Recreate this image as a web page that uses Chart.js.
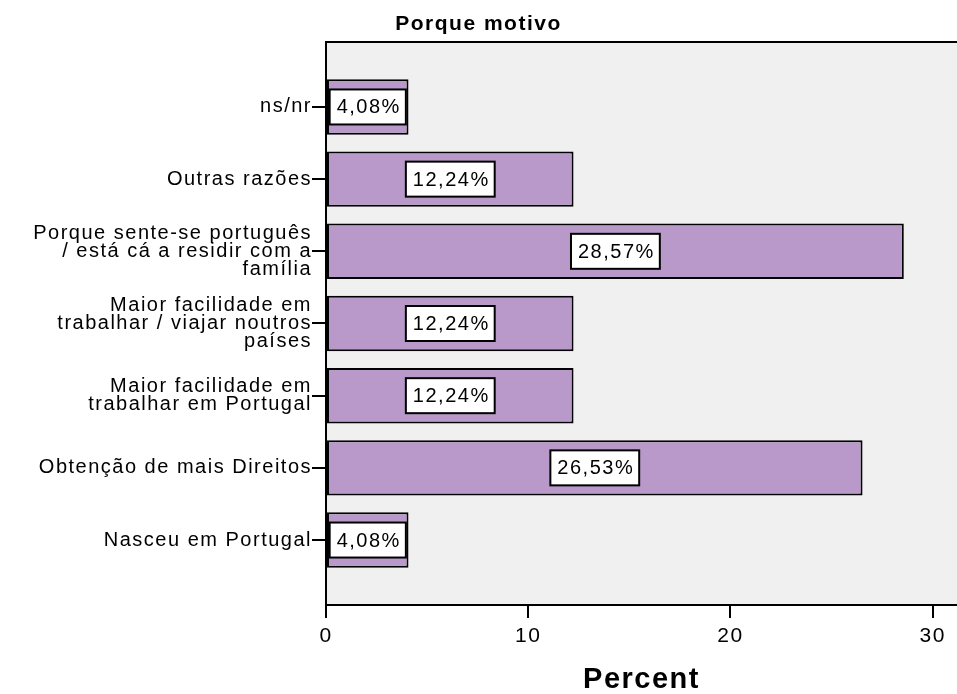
<!DOCTYPE html>
<html>
<head>
<meta charset="utf-8">
<script src="https://cdn.jsdelivr.net/npm/chart.js@4/dist/chart.umd.min.js"></script>
<style>
    body { margin: 0; background: #fff; }
    #wrap { width: 957px; height: 694px; position: relative; }
</style>
</head>
<body>
<div id="wrap"><canvas id="motivoChart"></canvas></div>
<script>
// Categorias (de cima para baixo) e percentagens
const categorias = [
    'ns/nr',
    'Outras razões',
    ['Porque sente-se português', '/ está cá a residir com a', 'família'],
    ['Maior facilidade em', 'trabalhar / viajar noutros', 'países'],
    ['Maior facilidade em', 'trabalhar em Portugal'],
    'Obtenção de mais Direitos',
    'Nasceu em Portugal'
];
const percentagens = [4.08, 12.24, 28.57, 12.24, 12.24, 26.53, 4.08];
const xTicks = [0, 10, 20, 30];

const FONT = "'Liberation Sans', Arial, sans-serif";
Chart.defaults.font.family = FONT;
Chart.defaults.color = '#000';

// fundo cinzento da área do gráfico + linha de topo
const fundoPlugin = {
    id: 'fundo',
    beforeDraw(chart) {
        const { ctx, chartArea: a } = chart;
        ctx.save();
        ctx.fillStyle = '#F0F0F0';
        ctx.fillRect(a.left, a.top, a.right - a.left, a.bottom - a.top);
        ctx.strokeStyle = '#000';
        ctx.lineWidth = 2;
        ctx.beginPath();
        ctx.moveTo(a.left, a.top);
        ctx.lineTo(a.right, a.top);
        ctx.stroke();
        ctx.restore();
        // o original tem as letras um pouco mais afastadas
        ctx.letterSpacing = '1.5px';
    }
};

// caixas brancas com o valor no centro de cada barra
const rotulosPlugin = {
    id: 'rotulos',
    afterDatasetsDraw(chart) {
        const { ctx } = chart;
        const meta = chart.getDatasetMeta(0);
        ctx.save();
        ctx.font = '20px ' + FONT;
        ctx.textAlign = 'center';
        ctx.textBaseline = 'middle';
        meta.data.forEach((bar, i) => {
            const txt = percentagens[i].toFixed(2).replace('.', ',') + '%';
            const cx = (bar.x + bar.base) / 2;
            const cy = bar.y;
            const w = ctx.measureText(txt).width + 12;
            const h = 35;
            ctx.fillStyle = '#fff';
            ctx.fillRect(cx - w / 2, cy - h / 2, w, h);
            ctx.strokeStyle = '#000';
            ctx.lineWidth = 2;
            ctx.strokeRect(cx - w / 2, cy - h / 2, w, h);
            ctx.fillStyle = '#000';
            ctx.fillText(txt, cx + 1, cy + 1);
        });
        ctx.restore();
    }
};

const ctx = document.getElementById('motivoChart').getContext('2d');
new Chart(ctx, {
    type: 'bar',
    data: {
        datasets: [{
            data: percentagens.map((v, i) => ({ x: v, y: i })),
            backgroundColor: '#B899C9',
            borderColor: '#000',
            borderWidth: 2,
            borderSkipped: false,
            barPercentage: 0.96,
            categoryPercentage: 0.8
        }]
    },
    options: {
        indexAxis: 'y',
        responsive: true,
        maintainAspectRatio: false,
        animation: false,
        layout: { padding: 0 },
        plugins: {
            legend: { display: false },
            tooltip: { enabled: false },
            title: {
                display: true,
                text: 'Porque motivo',
                font: { size: 21, weight: 'bold', lineHeight: 1 },
                padding: { top: 14, bottom: 7 }
            }
        },
        scales: {
            x: {
                type: 'linear',
                min: 0,
                max: 31.2,
                afterBuildTicks: s => { s.ticks = xTicks.map(v => ({ value: v })); },
                afterFit: s => { s.height = 89; },
                ticks: { font: { size: 21 }, padding: 6, maxRotation: 0 },
                grid: { drawOnChartArea: false, tickLength: 13, color: '#000', lineWidth: 2 },
                border: { display: true, color: '#000', width: 2 },
                title: {
                    display: true,
                    text: 'Percent',
                    font: { size: 29, weight: 'bold', lineHeight: 1 },
                    padding: { top: 0, bottom: 0 }
                }
            },
            y: {
                type: 'linear',
                reverse: true,
                min: -0.9,
                max: 6.9,
                offset: false,
                afterBuildTicks: s => { s.ticks = categorias.map((c, i) => ({ value: i })); },
                afterFit: s => { s.width = 326; },
                ticks: {
                    font: { size: 20, lineHeight: 0.9 },
                    padding: 0,
                    callback: v => categorias[v]
                },
                grid: { drawOnChartArea: false, offset: false, tickLength: 14, color: '#000', lineWidth: 2 },
                border: { display: true, color: '#000', width: 2 }
            }
        }
    },
    plugins: [fundoPlugin, rotulosPlugin]
});
</script>
</body>
</html>
